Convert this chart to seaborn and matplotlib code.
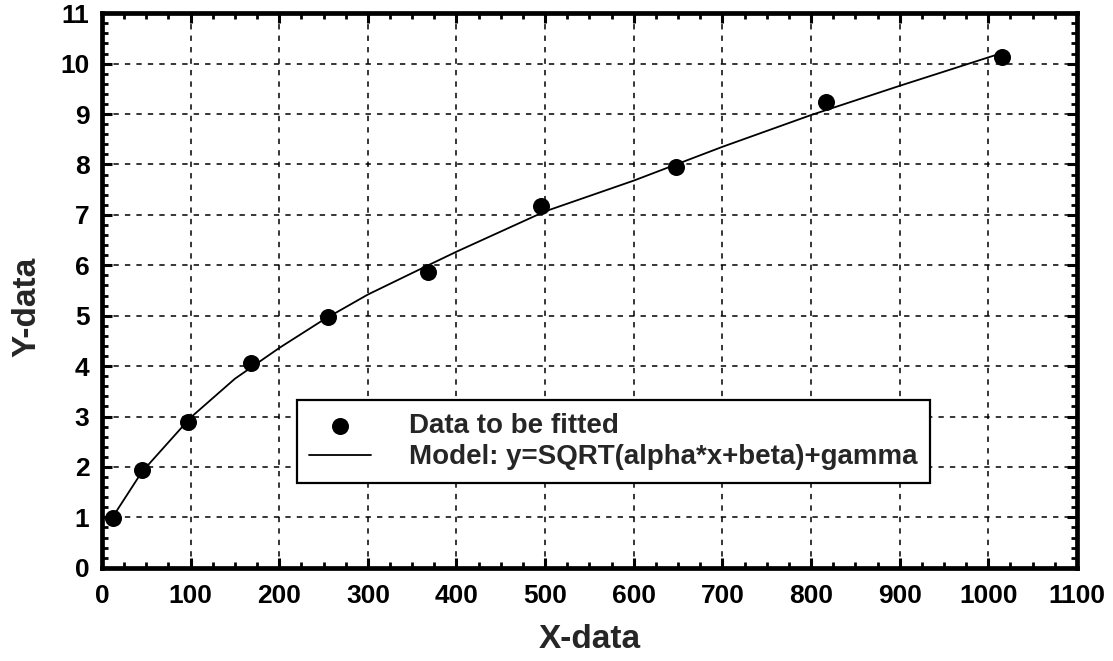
import numpy as np
import pandas as pd
import matplotlib
matplotlib.use("Agg")
import matplotlib.pyplot as plt
import seaborn as sns
from matplotlib.ticker import MultipleLocator

# Data
x_data = [12, 45, 97, 168, 255, 368, 495, 648, 817, 1015]
y_data = [0.99, 1.94, 2.90, 4.06, 4.97, 5.86, 7.17, 7.95, 9.23, 10.13]

x_model = [10, 45, 100, 150, 200, 250, 300, 368, 400, 500, 600, 700, 800, 900, 1010]
y_model = [0.95, 1.90, 2.98, 3.75, 4.36, 4.92, 5.42, 6.00, 6.27, 7.07, 7.68, 8.35, 8.98, 9.56, 10.18]

x_ticks = [0, 100, 200, 300, 400, 500, 600, 700, 800, 900, 1000, 1100]
y_ticks = [0, 1, 2, 3, 4, 5, 6, 7, 8, 9, 10, 11]

label_points = "Data to be fitted"
label_model = "Model: y=SQRT(alpha*x+beta)+gamma"

sns.set_style("ticks")
plt.rcParams['font.family'] = ['Liberation Sans', 'DejaVu Sans']
plt.rcParams['font.weight'] = 'bold'

fig = plt.figure(figsize=(11.13, 6.61), dpi=100)
ax = fig.add_axes([0.0916, 0.141, 0.876, 0.839])

df_pts = pd.DataFrame({"x": x_data, "y": y_data})
df_mod = pd.DataFrame({"x": x_model, "y": y_model})

sns.scatterplot(data=df_pts, x="x", y="y", ax=ax, color="black", s=150,
                edgecolor="black", linewidth=0, label=label_points, zorder=4)
sns.lineplot(data=df_mod, x="x", y="y", ax=ax, color="black", linewidth=1.3,
             label=label_model, zorder=3, sort=True)

ax.set_xlim(0, 1100)
ax.set_ylim(0, 11)
ax.set_xticks(x_ticks)
ax.set_yticks(y_ticks)
ax.xaxis.set_minor_locator(MultipleLocator(25))
ax.yaxis.set_minor_locator(MultipleLocator(0.2))

ax.tick_params(which='both', direction='in', top=True, right=True, colors='black')
ax.tick_params(which='major', length=7, width=2.2, labelsize=19)
ax.tick_params(axis='x', which='major', pad=12)
ax.tick_params(axis='y', which='major', pad=9)
ax.tick_params(which='minor', length=4, width=2.0)
for lab in ax.get_xticklabels() + ax.get_yticklabels():
    lab.set_fontweight('bold')

for sp in ax.spines.values():
    sp.set_linewidth(3.4)
    sp.set_color('black')

ax.grid(True, which='major', color='black', linestyle=(0, (3.5, 4)), linewidth=1.1)
ax.set_axisbelow(True)

ax.set_xlabel("X-data", fontsize=24, fontweight='bold')
ax.set_ylabel("Y-data", fontsize=24, fontweight='bold')
ax.xaxis.set_label_coords(0.5, -0.13)
ax.yaxis.set_label_coords(-0.077, 0.47)
ax.xaxis.label.set_va('center')
ax.yaxis.label.set_va('center')

leg = ax.legend(loc='lower left', bbox_to_anchor=(0.2, 0.153), fontsize=20,
                frameon=True, fancybox=False, framealpha=1, edgecolor='black',
                borderpad=0.45, handlelength=2.2, handletextpad=1.4, labelspacing=0.2,
                borderaxespad=0)
leg.get_frame().set_linewidth(1.6)
for t in leg.get_texts():
    t.set_fontweight('bold')

fig.savefig("out.png", dpi=100)
